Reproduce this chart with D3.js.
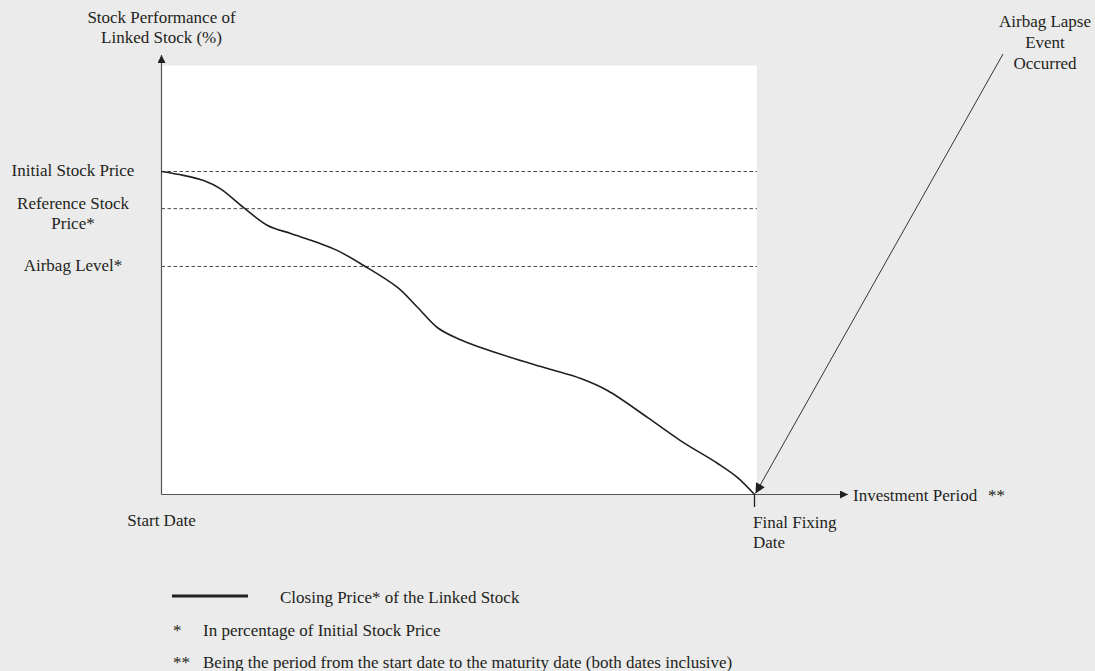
<!DOCTYPE html>
<html>
<head>
<meta charset="utf-8">
<script src="https://cdn.jsdelivr.net/npm/d3@7"></script>
<style>
  html, body { margin: 0; padding: 0; background: #ebebeb; }
  svg { display: block; }
</style>
</head>
<body>
<script>
// ---- data ----
// time as % of investment period (0 = Start Date, 100 = Final Fixing Date)
const periodPct = [0, 3.7, 7.1, 9.9, 13.8, 17.9, 21.8, 26.3, 29.7, 34.1, 39.8, 43.2, 46.5, 49.9, 56.7, 65.1, 70.7, 75.2, 82.0, 87.5, 93.8, 97.1, 100];
// closing price as % of initial stock price
const closingPct = [100, 98.8, 97.2, 94.7, 88.9, 83.3, 80.8, 78.0, 75.5, 70.9, 64.1, 57.9, 51.7, 48.3, 43.7, 39.0, 35.9, 32.2, 23.8, 16.7, 9.6, 5.3, 0];
const levelNames = ["Initial Stock Price", "Reference Stock|Price*", "Airbag Level*"];
const levelValues = [100, 88.5, 70.6];
const xLabels = ["Start Date", "Final Fixing|Date"];
const xLabelValues = [0, 100];
const yTitle = ["Stock Performance of", "Linked Stock (%)"];
const xTitle = ["Investment Period", "**"];
const annotation = ["Airbag Lapse", "Event", "Occurred"];
const legendText = "Closing Price* of the Linked Stock";
const notes = [["*", "In percentage of Initial Stock Price"], ["**", "Being the period from the start date to the maturity date (both dates inclusive)"]];

// ---- layout ----
const W = 1095, H = 671;
const FONT = "'Liberation Serif', Tinos, 'Times New Roman', Times, serif";
const FS = 17;
const INK = "#231f20";
const x = d3.scaleLinear().domain([0, 100]).range([161.5, 754.5]);
const y = d3.scaleLinear().domain([0, 100]).range([494.5, 171.5]);
const yTop = 132.8, xRight = 100.4;

const svg = d3.select("body").append("svg").attr("width", W).attr("height", H)
  .attr("font-family", FONT).attr("font-size", FS).attr("fill", INK);
const defs = svg.append("defs");
defs.append("marker").attr("id", "arr").attr("viewBox", "0 0 10 10")
  .attr("refX", 10).attr("refY", 5).attr("markerWidth", 10).attr("markerHeight", 8)
  .attr("markerUnits", "userSpaceOnUse").attr("orient", "auto")
  .append("path").attr("d", "M0,0L10,5L0,10Z").attr("fill", INK);
defs.append("marker").attr("id", "arr2").attr("viewBox", "0 0 10 10")
  .attr("refX", 10).attr("refY", 5).attr("markerWidth", 13).attr("markerHeight", 10)
  .attr("markerUnits", "userSpaceOnUse").attr("orient", "auto")
  .append("path").attr("d", "M0,0L10,5L0,10Z").attr("fill", INK);

// white plot area
svg.append("rect").attr("x", x(0)).attr("y", y(yTop))
  .attr("width", x(xRight) - x(0)).attr("height", y(0) - y(yTop)).attr("fill", "#fff");

// dashed levels
svg.selectAll("line.level").data(levelValues).join("line").attr("class", "level")
  .attr("x1", x(0)).attr("x2", x(xRight)).attr("y1", d => y(d)).attr("y2", d => y(d))
  .attr("stroke", "#333").attr("stroke-width", 0.9).attr("stroke-dasharray", "3.5,2.5");

// axes
svg.append("line").attr("x1", x(0)).attr("x2", x(0)).attr("y1", y(0)).attr("y2", 55)
  .attr("stroke", "#555").attr("stroke-width", 1.2).attr("marker-end", "url(#arr)");
svg.append("line").attr("x1", x(0)).attr("x2", 848).attr("y1", y(0)).attr("y2", y(0))
  .attr("stroke", "#555").attr("stroke-width", 1.2).attr("marker-end", "url(#arr)");
svg.append("line").attr("x1", x(100)).attr("x2", x(100)).attr("y1", y(0)).attr("y2", 507)
  .attr("stroke", INK).attr("stroke-width", 1.3);

// curve
const line = d3.line().x((d, i) => x(periodPct[i])).y(d => y(d)).curve(d3.curveCatmullRom.alpha(0.5));
svg.append("path").attr("d", line(closingPct)).attr("fill", "none")
  .attr("stroke", INK).attr("stroke-width", 1.6);

// annotation arrow
svg.append("line").attr("x1", 1003).attr("y1", 54).attr("x2", x(100) + 1).attr("y2", y(0) - 1)
  .attr("stroke", INK).attr("stroke-width", 0.9).attr("marker-end", "url(#arr2)");
svg.append("text").attr("text-anchor", "middle")
  .selectAll("tspan").data(annotation).join("tspan")
  .attr("x", 1045).attr("y", (d, i) => 27 + i * 21).text(d => d);

// y title
svg.append("text").attr("text-anchor", "middle")
  .selectAll("tspan").data(yTitle).join("tspan")
  .attr("x", 161.5).attr("y", (d, i) => 23 + i * 20).text(d => d);

// level labels
levelNames.forEach((name, k) => {
  const lines = name.split("|");
  const cy = y(levelValues[k]);
  svg.append("text").attr("text-anchor", "middle")
    .selectAll("tspan").data(lines).join("tspan")
    .attr("x", 73).attr("y", (d, i) => (lines.length > 1 ? cy + 0.5 : cy + 4.5) + i * 20).text(d => d);
});

// x labels
svg.append("text").attr("text-anchor", "middle")
  .attr("x", x(xLabelValues[0])).attr("y", 526).text(xLabels[0]);
svg.append("text").attr("text-anchor", "start")
  .selectAll("tspan").data(xLabels[1].split("|")).join("tspan")
  .attr("x", x(xLabelValues[1]) - 1.5).attr("y", (d, i) => 528 + i * 20).text(d => d);

// x title
svg.append("text").attr("x", 853).attr("y", 501).text(xTitle[0]);
svg.append("text").attr("x", 988).attr("y", 501).text(xTitle[1]);

// legend
svg.append("line").attr("x1", 172).attr("x2", 248).attr("y1", 596).attr("y2", 596)
  .attr("stroke", INK).attr("stroke-width", 3);
svg.append("text").attr("x", 280).attr("y", 603).text(legendText);
notes.forEach((n, i) => {
  svg.append("text").attr("x", 173).attr("y", 636 + i * 32).text(n[0]);
  svg.append("text").attr("x", 203).attr("y", 636 + i * 32).text(n[1]);
});
</script>
</body>
</html>
